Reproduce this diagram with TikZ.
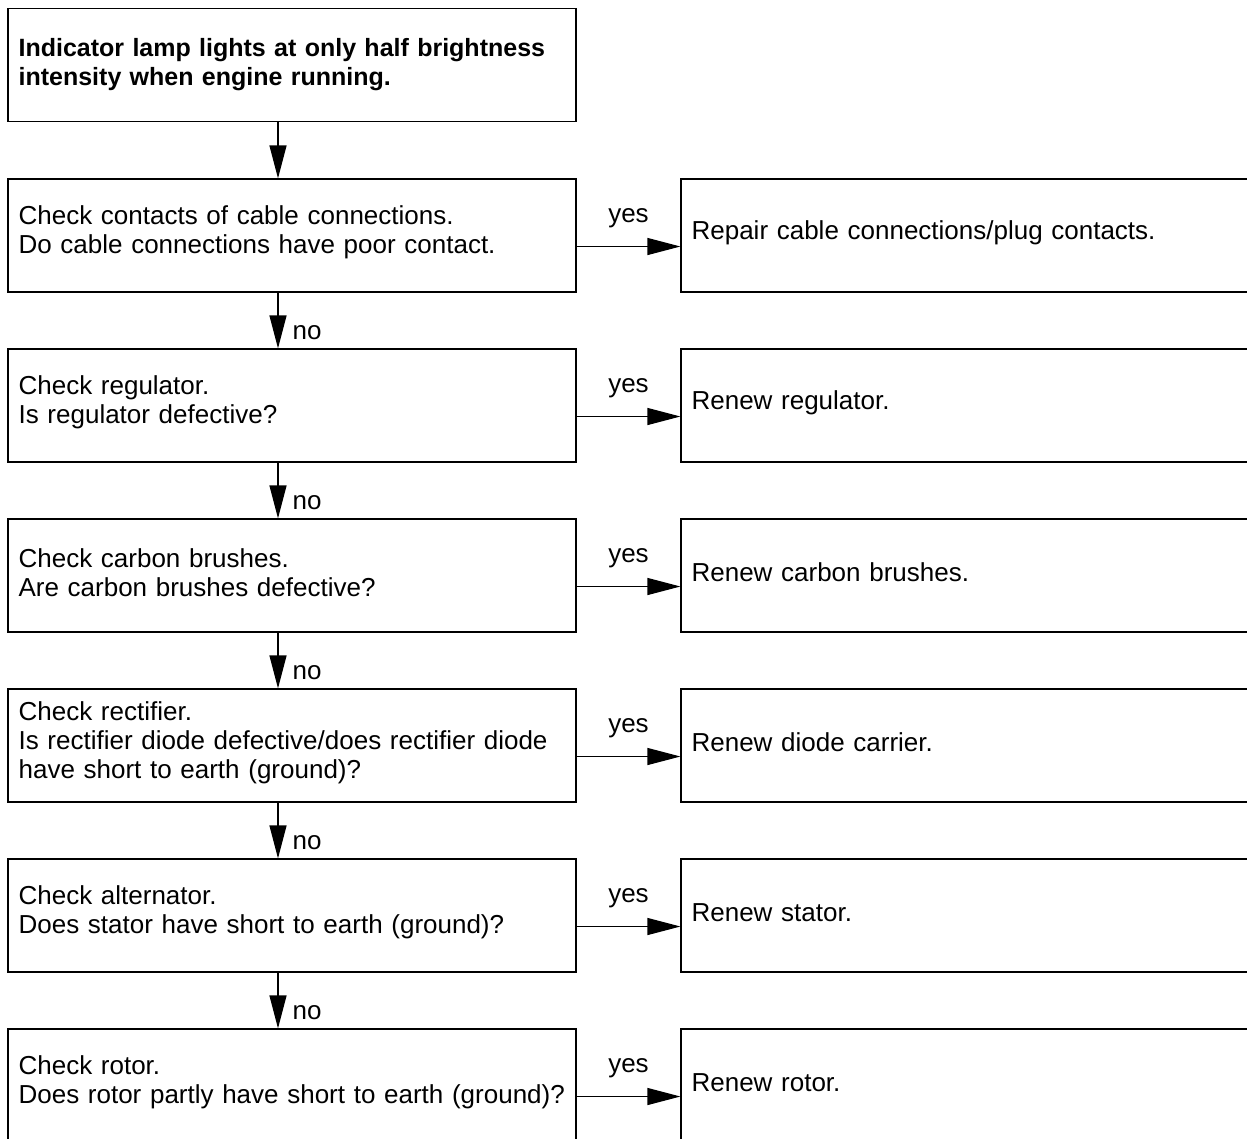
\documentclass[tikz,border=0pt]{standalone}
\usepackage{fontspec}
\setmainfont{Liberation Sans}
\usetikzlibrary{arrows.meta}
\begin{document}
\begin{tikzpicture}[x=1pt,y=-1pt,
  txt/.style={font=\fontsize{26}{29}\selectfont},
  lbox/.style={draw,line width=1.2pt,rectangle,minimum width=568pt,minimum height=113pt,inner sep=0pt},
  rbox/.style={draw,line width=1.2pt,rectangle,minimum width=640pt,minimum height=113pt,inner sep=0pt},
  btxt/.style={txt,inner sep=0pt,text width=560pt,align=left,anchor=west},
  arr/.style={line width=1.2pt,-{Triangle[length=33pt,width=17pt]}},
  lab/.style={txt,inner sep=0pt}]
\useasboundingbox (0,0) rectangle (1247,1138);
\clip (0,0) rectangle (1247,1138);
\node[lbox] (t) at (292,65) {};
\node[lbox] (b1) at (292,235.5) {};
\node[lbox] (b2) at (292,405.5) {};
\node[lbox] (b3) at (292,575.5) {};
\node[lbox] (b4) at (292,745.5) {};
\node[lbox] (b5) at (292,915.5) {};
\node[lbox] (b6) at (292,1085.5) {};
\node[rbox] (r1) at (1001,235.5) {};
\node[rbox] (r2) at (1001,405.5) {};
\node[rbox] (r3) at (1001,575.5) {};
\node[rbox] (r4) at (1001,745.5) {};
\node[rbox] (r5) at (1001,915.5) {};
\node[rbox] (r6) at (1001,1085.5) {};
\node[btxt,font=\fontsize{25}{29}\selectfont\bfseries] (tt) at ([xshift=11pt,yshift=0.5pt]t.west) {Indicator lamp lights at only half brightness\\intensity when engine running.};
\node[btxt] (b1t) at ([xshift=11pt,yshift=3pt]b1.west) {Check contacts of cable connections.\\Do cable connections have poor contact.};
\node[btxt] (b2t) at ([xshift=11pt,yshift=3pt]b2.west) {Check regulator.\\Is regulator defective?};
\node[btxt] (b3t) at ([xshift=11pt,yshift=3pt]b3.west) {Check carbon brushes.\\Are carbon brushes defective?};
\node[btxt] (b4t) at ([xshift=11pt,yshift=3pt]b4.west) {Check rectifier.\\Is rectifier diode defective/does rectifier diode\\have short to earth (ground)?};
\node[btxt] (b5t) at ([xshift=11pt,yshift=3pt]b5.west) {Check alternator.\\Does stator have short to earth (ground)?};
\node[btxt] (b6t) at ([xshift=11pt,yshift=3pt]b6.west) {Check rotor.\\Does rotor partly have short to earth (ground)?};
\node[btxt] (r1t) at ([xshift=11pt,yshift=3pt]r1.west) {Repair cable connections/plug contacts.};
\node[btxt] (r2t) at ([xshift=11pt,yshift=3pt]r2.west) {Renew regulator.};
\node[btxt] (r3t) at ([xshift=11pt,yshift=3pt]r3.west) {Renew carbon brushes.};
\node[btxt] (r4t) at ([xshift=11pt,yshift=3pt]r4.west) {Renew diode carrier.};
\node[btxt] (r5t) at ([xshift=11pt,yshift=3pt]r5.west) {Renew stator.};
\node[btxt] (r6t) at ([xshift=11pt,yshift=3pt]r6.west) {Renew rotor.};
\draw[arr] ([xshift=-14pt]t.south) -- ([xshift=-14pt]b1.north);
\foreach \a/\b in {b1/b2,b2/b3,b3/b4,b4/b5,b5/b6}{
  \draw[arr] ([xshift=-14pt]\a.south) -- ([xshift=-14pt]\b.north) node[lab,midway,xshift=29pt,yshift=-12pt]{no};
}
\foreach \i in {1,...,6}{
  \draw[arr] ([yshift=-11pt]b\i.east) -- ([yshift=-11pt]r\i.west) node[lab,midway,yshift=28pt]{yes};
}
\end{tikzpicture}
\end{document}
